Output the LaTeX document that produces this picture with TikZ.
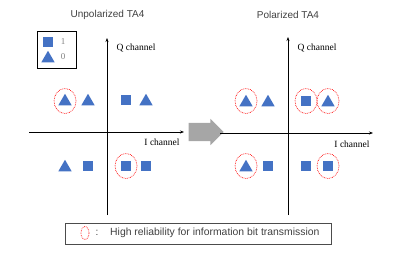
\documentclass[tikz,border=0pt]{standalone}
\usepackage{fontspec}
\setmainfont{Liberation Serif}
\setsansfont{Liberation Sans}
\usetikzlibrary{shapes.geometric,shapes.arrows,arrows.meta}
\definecolor{symblue}{HTML}{4472C4}
\definecolor{txtgray}{HTML}{404040}
\tikzset{sq/.style={fill=symblue,minimum size=10pt,inner sep=0pt},
 tri/.style={regular polygon,regular polygon sides=3,fill=symblue,minimum size=15.5pt,inner sep=0pt,yshift=-1.5pt},
 hr/.style={ellipse,draw=red,line width=0.7pt,densely dotted,minimum width=22pt,minimum height=25pt,inner sep=0pt},
 axis/.style={draw=black,semithick,-{Stealth[length=4pt,width=3pt]}},
 chan/.style={font=\fontsize{9.5}{11}\selectfont},
 ttl/.style={font=\sffamily\fontsize{10}{12}\selectfont,text=txtgray}}
\begin{document}
\begin{tikzpicture}[x=1pt,y=-1pt]
\useasboundingbox (0,0) rectangle (407,260);
% unpolarized constellation
\node[ttl] (ttlL) at (107.5,15) {Unpolarized TA4};
\coordinate (Lw) at (29,132); \coordinate (Le) at (184,132);
\coordinate (Ls) at (107,215); \coordinate (Ln) at (107,38);
\draw[axis] (Lw) -- (Le);
\draw[axis] (Ls) -- (Ln);
\node[chan] (LQ) at (136,48) {Q channel};
\node[chan] (LI) at (162,142) {I channel};
\foreach \s/\x/\y/\n in {tri/65/100/1,tri/88/100/2,sq/126/100/3,tri/146/100/4,
  tri/65/166/5,sq/88/166/6,sq/126/166/7,sq/146/166/8}
  \node[\s] (L\n) at (\x,\y) {};
\node[hr] at (65,101) {};
\node[hr] at (126,166) {};
% legend
\node[draw=black,thick,minimum width=39pt,minimum height=37pt] (key) at (57,49.5) {};
\node[sq] (keysq) at (48,42) {};
\node[tri] (keytri) at (48,57) {};
\node[text=gray,font=\fontsize{9}{10}\selectfont] (key1) at (63,42) {1};
\node[text=gray,font=\fontsize{9}{10}\selectfont] (key0) at (63,57) {0};
% transition
\node[single arrow,fill=black!35,minimum height=35pt,inner xsep=0pt,inner ysep=9pt,single arrow head extend=4pt] (go) at (201.5,132) {};
% polarized constellation
\node[ttl] (ttlR) at (288,15) {Polarized TA4};
\coordinate (Rw) at (220,133); \coordinate (Re) at (373,133);
\coordinate (Rs) at (288,215); \coordinate (Rn) at (288,37);
\draw[axis] (Rw) -- (Re);
\draw[axis] (Rs) -- (Rn);
\node[chan] (RQ) at (317,48) {Q channel};
\node[chan] (RI) at (352,144) {I channel};
\foreach \s/\x/\y/\n in {tri/246/101/1,tri/268/101/2,sq/306/101/3,tri/328/101/4,
  tri/246/166/5,sq/268/166/6,sq/306/166/7,sq/328/166/8}
  \node[\s] (R\n) at (\x,\y) {};
\foreach \x/\y in {246/101,306/101,328/101,246/166,328/166}
  \node[hr] at (\x,\y) {};
% note
\node[draw=black!70,semithick,minimum width=266pt,minimum height=21pt] (note) at (198,233.5) {};
\node[hr,minimum width=8pt,minimum height=13pt] (noteo) at (85,233) {};
\node[text=txtgray,font=\sffamily] (notec) at (97,233) {:};
\node[anchor=west,text=txtgray,font=\sffamily\fontsize{10.4}{12}\selectfont,inner sep=0pt] (notet) at (110,233) {High reliability for information bit transmission};
\end{tikzpicture}
\end{document}
